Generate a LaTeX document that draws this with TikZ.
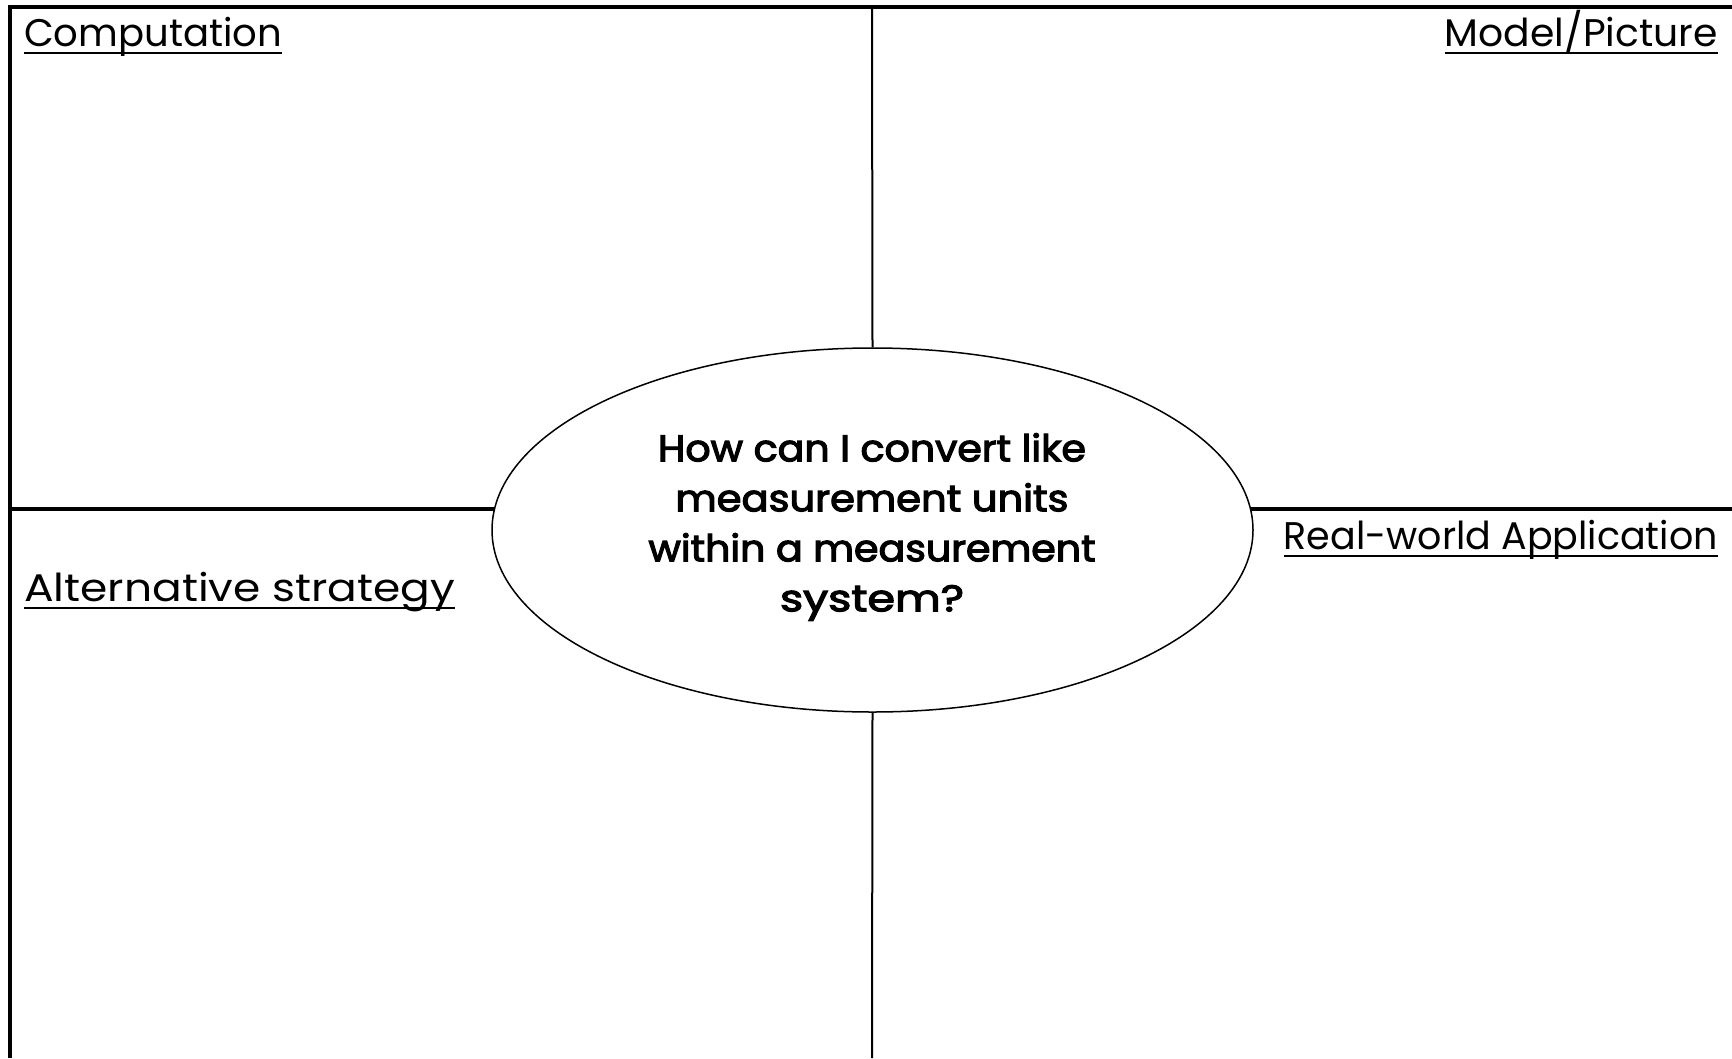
\documentclass[tikz,border=0pt]{standalone}
\usepackage{fontspec}
\usepackage{graphicx}
\setmainfont{Poppins}
\newfontfamily\qfont{Poppins}[FakeBold=3]
\usetikzlibrary{shapes.geometric}
\newcommand{\fitw}[2]{\resizebox{#1pt}{\height}{#2}}
\begin{document}
\begin{tikzpicture}[x=1pt,y=-1pt,
  frame/.style={line width=4pt},
  thinline/.style={line width=2pt},
  lbl/.style={inner sep=0pt, font=\fontsize{38.5}{44}\selectfont},
  uline/.style={line width=2pt},
  qtext/.style={inner sep=0pt, align=center, font=\fontsize{37}{50}\qfont},
]
\useasboundingbox (0,0) rectangle (1732,1058);
\coordinate (tl) at (10,7);
\coordinate (tr) at (1732,7);
\coordinate (bl) at (10,1058);
\draw[frame] (tr) -- (tl) -- (bl);
\node[draw, ellipse, line width=1.5pt, minimum width=761pt, minimum height=364pt, inner sep=0pt] (q) at (872.5,530) {};
\node[qtext] (qt) at (872,527) {\fitw{428}{How can I convert like}\\\fitw{393}{measurement units}\\\fitw{447}{within a measurement}\\\fitw{184}{system?}};
\coordinate (vt) at (872,7);
\coordinate (vb) at (872,1058);
\draw[thinline] (vt) -- (q.north);
\draw[thinline] (q.south) -- (vb);
\coordinate (hl) at (10,509);
\coordinate (hr) at (1732,509);
\draw[frame] (hl) -- ([xshift=2.5pt]hl -| q.west);
\draw[frame] ([xshift=-2.5pt]hr -| q.east) -- (hr);
\node[lbl, anchor=base west] (c1) at (24,46) {\fitw{258}{Computation}};
\node[lbl, anchor=base east] (c2) at (1718,46) {\fitw{273}{Model/Picture}};
\node[lbl, anchor=base west] (c3) at (24,601) {\fitw{431}{Alternative strategy}};
\node[lbl, anchor=base east] (c4) at (1718,549) {\fitw{434}{Real-world Application}};
\draw[uline] ([yshift=-7pt]c1.base west) -- ([yshift=-7pt]c1.base east);
\draw[uline] ([yshift=-7pt]c2.base west) -- ([yshift=-7pt]c2.base east);
\draw[uline] ([yshift=-7pt]c3.base west) -- ([yshift=-7pt]c3.base east);
\draw[uline] ([yshift=-7pt]c4.base west) -- ([yshift=-7pt]c4.base east);
\end{tikzpicture}
\end{document}
